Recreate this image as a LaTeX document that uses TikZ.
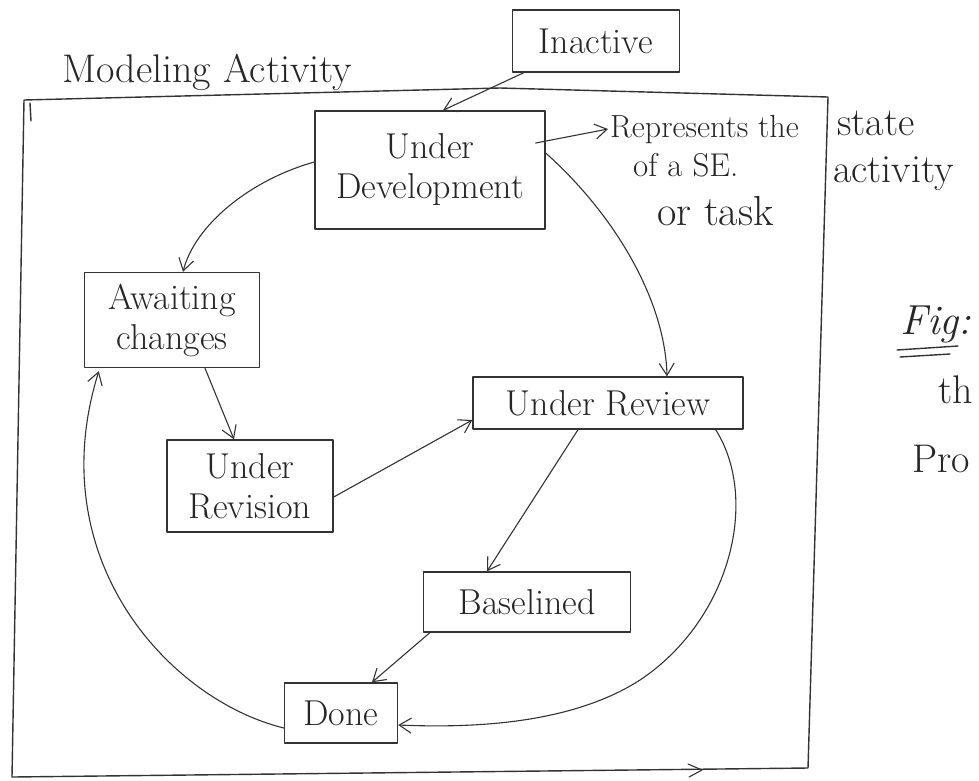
\documentclass[tikz,border=0pt]{standalone}
\usetikzlibrary{arrows.meta}
\begin{document}
\begin{tikzpicture}[x=1pt,y=-1pt,
  ink/.style={draw=black!80, line width=1.4pt, line cap=round, line join=round},
  state/.style={ink, rectangle, inner sep=0pt, align=center,
    font=\fontsize{36}{40}\selectfont, text=black!85},
  note/.style={font=\fontsize{32}{36}\selectfont, text=black!85, inner sep=0pt},
  big/.style={note, font=\fontsize{40}{44}\selectfont},
  flow/.style={ink, line width=1.1pt, -{Straight Barb[length=12pt,width=15pt,line width=1.1pt]}},
]
\useasboundingbox (0,0) rectangle (979,780);

% activity frame
\draw[ink] (24,100) -- (500,88) -- (828,97) -- (808,768) -- (12,777) -- cycle;
\draw[ink] (30,103) -- (31,121);
\draw[ink, line width=1.1pt] (688,764) -- (702,770) -- (689,777);
\node[big, anchor=base west] (title) at (62,82) {Modeling Activity};

% states
\node[state, minimum width=167pt, minimum height=62pt] (inactive) at (596,41) {Inactive};
\node[state, minimum width=230pt, minimum height=118pt] (dev) at (430,170) {Under\\Development};
\node[state, minimum width=175pt, minimum height=95pt] (await) at (172,320) {Awaiting\\changes};
\node[state, minimum width=166pt, minimum height=92pt] (revision) at (250,486) {Under\\Revision};
\node[state, minimum width=270pt, minimum height=52pt] (review) at (608,403) {Under Review};
\node[state, minimum width=207pt, minimum height=60pt] (base) at (527,602) {Baselined};
\node[state, minimum width=113pt, minimum height=60pt] (done) at (341,713) {Done};

% annotation
\node[note, anchor=base west] (rep) at (610,137) {Represents the};
\node[note, font=\fontsize{33}{37}\selectfont, anchor=base west] (seof) at (633,176) {of a SE.};
\node[big, font=\fontsize{42}{46}\selectfont, anchor=base west] (task) at (657,225) {or task};
\node[big, anchor=base west] (statew) at (837,135) {state};
\node[big, anchor=base west] (actw) at (833,182) {activity};

% figure caption at the right margin
\node[big, font=\fontsize{42}{46}\selectfont, anchor=base west] (fig) at (900,334) {\textit{Fig:}};
\draw[ink] (897,350) -- (958,346);
\draw[ink] (900,357) -- (950,354);
\node[big, anchor=base west] (the) at (938,403) {th};
\node[big, anchor=base west] (pro) at (912,472) {Pro};

% transitions
\draw[flow] ([xshift=12pt]inactive.south west) -- ([xshift=13pt]dev.north);
\draw[flow] ([xshift=-10pt,yshift=27pt]dev.east) -- ([xshift=-2pt]rep.west);
\draw[flow] ([yshift=17pt]dev.east) .. controls (615,215) and (665,300) .. ([xshift=59pt]review.north);
\draw[flow] ([yshift=8pt]dev.west) .. controls (250,180) and (195,225) .. ([xshift=11pt]await.north);
\draw[flow] ([xshift=33pt]await.south) -- ([xshift=-16pt]revision.north);
\draw[flow] ([yshift=-11pt]revision.east) -- ([yshift=-17pt]review.west);
\draw[flow] ([xshift=-30pt]review.south) -- ([xshift=-40pt]base.north);
\draw[flow] ([xshift=7pt]base.south west) -- ([xshift=31pt]done.north);
\draw[flow] ([xshift=-28pt]review.south east) .. controls (760,500) and (730,620) .. (640,680)
  .. controls (570,725) and (470,728) .. ([yshift=-12pt]done.east);
\draw[flow] ([yshift=-15pt]done.west) .. controls (170,700) and (40,560) .. ([xshift=15pt,yshift=-3pt]await.south west);
\end{tikzpicture}
\end{document}
